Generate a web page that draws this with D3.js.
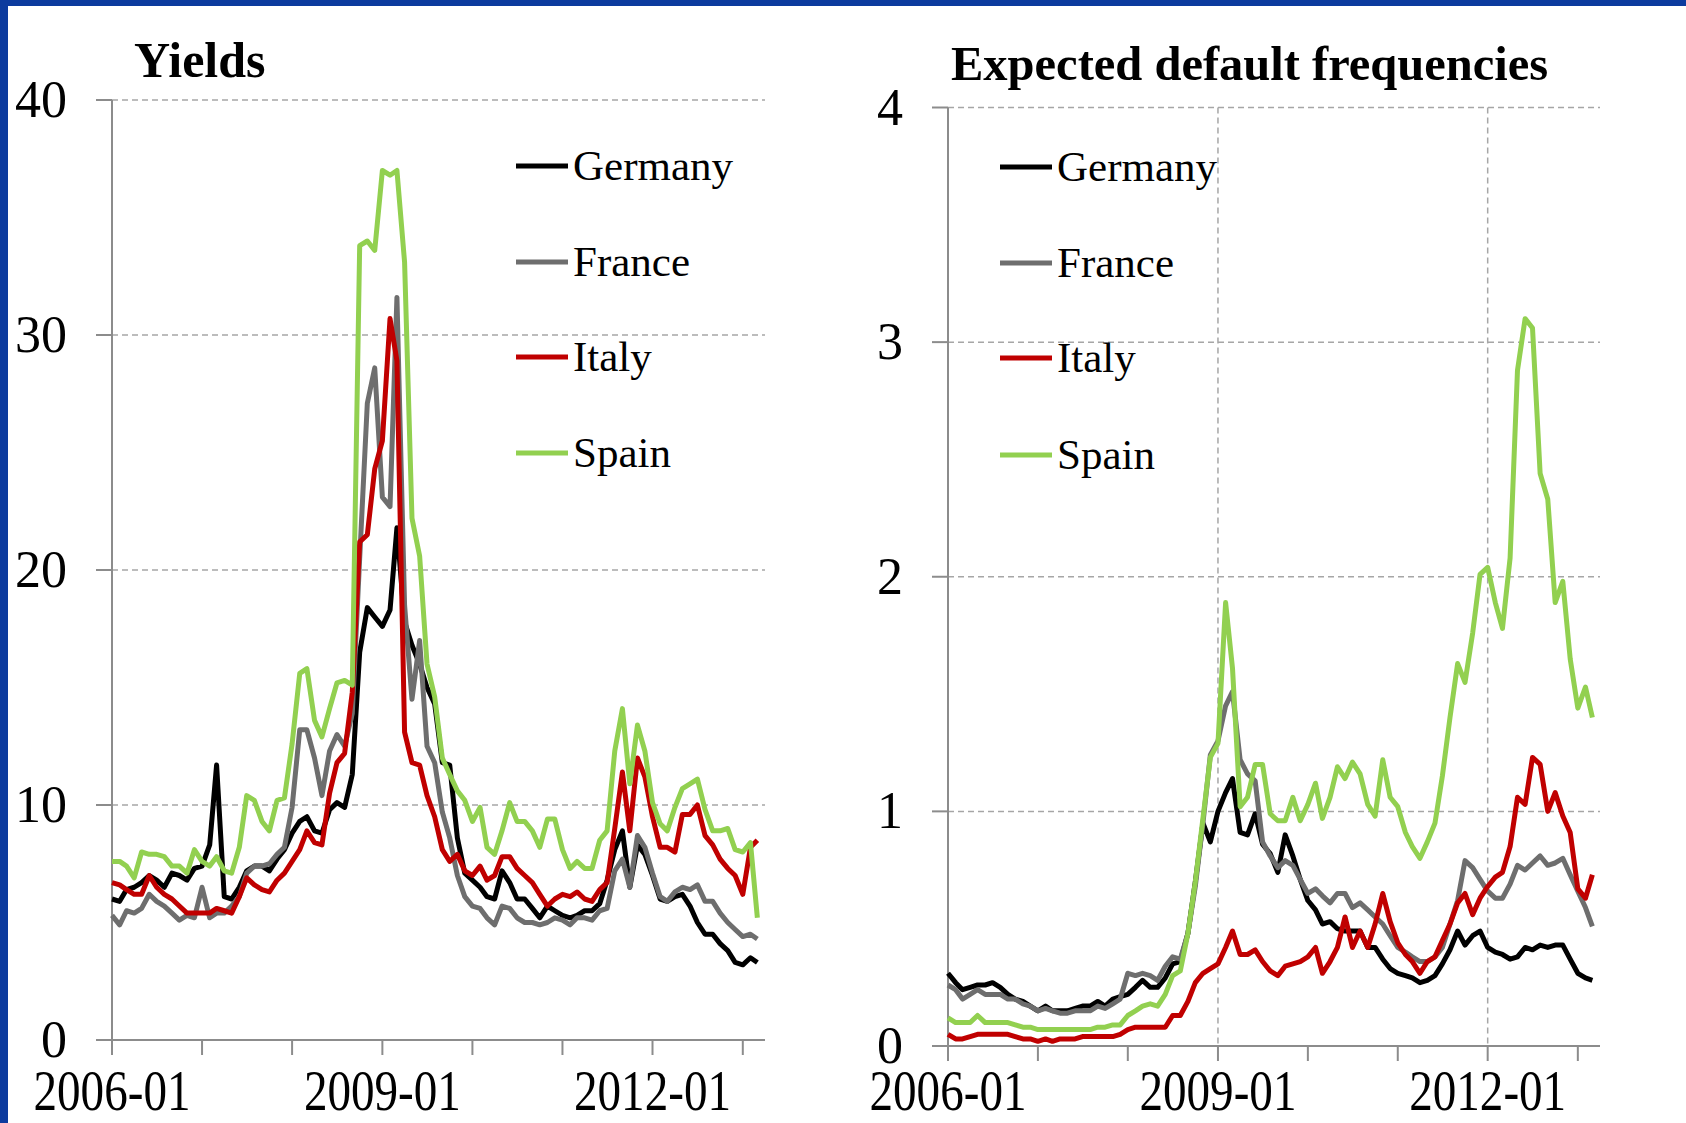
<!DOCTYPE html>
<html>
<head>
<meta charset="utf-8">
<script src="https://cdn.jsdelivr.net/npm/d3@7"></script>
<style>
  body { margin: 0; background: #fff; }
  svg { display: block; font-family: "Liberation Serif", "Times New Roman", serif; }
</style>
</head>
<body>
<div id="chart"></div>
<script>
// monthly observations, 2006-01 .. 2013-03
const months = d3.timeMonth.range(new Date(2006, 0, 1), new Date(2013, 3, 1));

const countries = ["Germany", "France", "Italy", "Spain"];
const colors = ["#000000", "#6e6e6e", "#c00000", "#92d050"];

const yieldGermany = [6.0, 5.9, 6.4, 6.5, 6.7, 7.0, 6.8, 6.5, 7.1, 7.0,
    6.8, 7.3, 7.4, 8.3, 11.7, 6.1, 6.0, 6.5, 7.2, 7.4,
    7.4, 7.2, 7.7, 8.1, 8.8, 9.3, 9.5, 8.9, 8.8, 9.8,
    10.1, 9.9, 11.3, 16.5, 18.4, 18.0, 17.6, 18.3, 21.8, 17.8,
    16.8, 16.0, 15.0, 14.3, 11.8, 11.7, 8.6, 7.1, 6.8, 6.5,
    6.1, 6.0, 7.2, 6.7, 6.0, 6.0, 5.6, 5.2, 5.7, 5.5,
    5.3, 5.2, 5.3, 5.5, 5.5, 5.8, 6.8, 8.1, 8.9, 6.5,
    8.3, 7.9, 7.0, 6.0, 5.9, 6.1, 6.2, 5.7, 5.0, 4.5,
    4.5, 4.1, 3.8, 3.3, 3.2, 3.5, 3.3];
const yieldFrance = [5.3, 4.9, 5.5, 5.4, 5.6, 6.2, 5.9, 5.7, 5.4, 5.1,
    5.3, 5.2, 6.5, 5.2, 5.4, 5.4, 5.7, 6.1, 7.1, 7.4,
    7.4, 7.5, 7.9, 8.2, 9.9, 13.2, 13.2, 12.0, 10.4, 12.3,
    13.0, 12.5, 13.9, 20.5, 27.1, 28.6, 23.1, 22.7, 31.6, 18.5,
    14.5, 17.0, 12.5, 11.8, 9.7, 8.6, 7.0, 6.1, 5.7, 5.6,
    5.2, 4.9, 5.7, 5.6, 5.2, 5.0, 5.0, 4.9, 5.0, 5.2,
    5.1, 4.9, 5.2, 5.2, 5.1, 5.5, 5.6, 7.2, 7.7, 6.5,
    8.7, 8.2, 7.1, 6.1, 5.9, 6.3, 6.5, 6.4, 6.6, 5.9,
    5.9, 5.4, 5.0, 4.7, 4.4, 4.5, 4.3];
const yieldItaly = [6.7, 6.6, 6.4, 6.2, 6.2, 7.0, 6.5, 6.2, 6.0, 5.7,
    5.4, 5.4, 5.4, 5.4, 5.6, 5.5, 5.4, 6.1, 6.9, 6.6,
    6.4, 6.3, 6.8, 7.1, 7.6, 8.1, 8.9, 8.4, 8.3, 10.5,
    11.8, 12.2, 14.8, 21.2, 21.5, 24.3, 25.5, 30.7, 28.9, 13.1,
    11.8, 11.7, 10.4, 9.5, 8.1, 7.6, 7.9, 7.2, 7.0, 7.4,
    6.8, 7.0, 7.8, 7.8, 7.3, 7.0, 6.7, 6.2, 5.7, 6.0,
    6.2, 6.1, 6.3, 6.0, 5.9, 6.4, 6.7, 9.0, 11.4, 8.9,
    12.0, 11.2, 9.5, 8.2, 8.2, 8.0, 9.6, 9.6, 10.0, 8.7,
    8.3, 7.7, 7.3, 7.0, 6.2, 8.2, 8.5];
const yieldSpain = [7.6, 7.6, 7.4, 6.9, 8.0, 7.9, 7.9, 7.8, 7.4, 7.4,
    7.1, 8.1, 7.6, 7.4, 7.8, 7.2, 7.1, 8.2, 10.4, 10.2,
    9.3, 8.9, 10.2, 10.3, 12.6, 15.6, 15.8, 13.6, 12.9, 14.1,
    15.2, 15.3, 15.1, 33.8, 34.0, 33.6, 37.0, 36.8, 37.0, 33.1,
    22.2, 20.6, 16.0, 14.6, 12.0, 11.3, 10.6, 10.2, 9.3, 9.9,
    8.2, 7.9, 8.9, 10.1, 9.3, 9.3, 8.9, 8.2, 9.4, 9.4,
    8.1, 7.3, 7.6, 7.3, 7.3, 8.5, 8.9, 12.3, 14.1, 10.9,
    13.4, 12.3, 10.1, 9.2, 8.9, 9.9, 10.7, 10.9, 11.1, 9.8,
    8.9, 8.9, 9.0, 8.1, 8.0, 8.4, 5.2];

const edfGermany = [0.31, 0.27, 0.24, 0.25, 0.26, 0.26, 0.27, 0.25, 0.22, 0.20,
    0.19, 0.17, 0.15, 0.17, 0.15, 0.15, 0.15, 0.16, 0.17, 0.17,
    0.19, 0.17, 0.20, 0.21, 0.22, 0.25, 0.28, 0.25, 0.25, 0.29,
    0.35, 0.36, 0.48, 0.70, 0.95, 0.87, 1.00, 1.08, 1.14, 0.91,
    0.90, 0.99, 0.86, 0.82, 0.74, 0.90, 0.81, 0.71, 0.62, 0.58,
    0.52, 0.53, 0.50, 0.49, 0.49, 0.49, 0.42, 0.42, 0.37, 0.33,
    0.31, 0.30, 0.29, 0.27, 0.28, 0.30, 0.35, 0.41, 0.49, 0.43,
    0.47, 0.49, 0.42, 0.40, 0.39, 0.37, 0.38, 0.42, 0.41, 0.43,
    0.42, 0.43, 0.43, 0.37, 0.31, 0.29, 0.28];
const edfFrance = [0.26, 0.24, 0.20, 0.22, 0.24, 0.22, 0.22, 0.22, 0.20, 0.20,
    0.18, 0.17, 0.15, 0.16, 0.15, 0.14, 0.14, 0.15, 0.15, 0.15,
    0.17, 0.16, 0.18, 0.20, 0.31, 0.30, 0.31, 0.30, 0.28, 0.34,
    0.38, 0.37, 0.48, 0.68, 0.95, 1.24, 1.30, 1.45, 1.51, 1.22,
    1.16, 1.13, 0.87, 0.81, 0.76, 0.79, 0.77, 0.71, 0.65, 0.67,
    0.64, 0.61, 0.65, 0.65, 0.59, 0.61, 0.58, 0.55, 0.52, 0.47,
    0.42, 0.40, 0.38, 0.36, 0.36, 0.38, 0.42, 0.52, 0.62, 0.79,
    0.76, 0.71, 0.66, 0.63, 0.63, 0.69, 0.77, 0.75, 0.78, 0.81,
    0.77, 0.78, 0.80, 0.73, 0.66, 0.59, 0.51];
const edfItaly = [0.05, 0.03, 0.03, 0.04, 0.05, 0.05, 0.05, 0.05, 0.05, 0.04,
    0.03, 0.03, 0.02, 0.03, 0.02, 0.03, 0.03, 0.03, 0.04, 0.04,
    0.04, 0.04, 0.04, 0.05, 0.07, 0.08, 0.08, 0.08, 0.08, 0.08,
    0.13, 0.13, 0.19, 0.27, 0.31, 0.33, 0.35, 0.42, 0.49, 0.39,
    0.39, 0.41, 0.36, 0.32, 0.30, 0.34, 0.35, 0.36, 0.38, 0.42,
    0.31, 0.36, 0.42, 0.55, 0.42, 0.49, 0.42, 0.52, 0.65, 0.53,
    0.44, 0.39, 0.36, 0.31, 0.36, 0.38, 0.45, 0.52, 0.61, 0.65,
    0.56, 0.63, 0.68, 0.72, 0.74, 0.85, 1.06, 1.03, 1.23, 1.20,
    1.00, 1.08, 0.98, 0.91, 0.67, 0.63, 0.73];
const edfSpain = [0.12, 0.10, 0.10, 0.10, 0.13, 0.10, 0.10, 0.10, 0.10, 0.09,
    0.08, 0.08, 0.07, 0.07, 0.07, 0.07, 0.07, 0.07, 0.07, 0.07,
    0.08, 0.08, 0.09, 0.09, 0.13, 0.15, 0.17, 0.18, 0.17, 0.22,
    0.30, 0.32, 0.48, 0.70, 0.97, 1.23, 1.29, 1.89, 1.61, 1.02,
    1.06, 1.20, 1.20, 0.99, 0.96, 0.96, 1.06, 0.96, 1.03, 1.12,
    0.97, 1.06, 1.19, 1.14, 1.21, 1.16, 1.03, 0.98, 1.22, 1.06,
    1.02, 0.91, 0.85, 0.80, 0.87, 0.95, 1.15, 1.40, 1.63, 1.55,
    1.76, 2.01, 2.04, 1.89, 1.78, 2.08, 2.88, 3.10, 3.06, 2.44,
    2.33, 1.89, 1.98, 1.65, 1.44, 1.53, 1.40];

const yieldTicks = [0, 10, 20, 30, 40];
const edfTicks = [0, 1, 2, 3, 4];
const labelYears = [2006, 2009, 2012];

const width = 1686, height = 1123;
const fmt = d3.timeFormat("%Y-%m");
const xEnd = new Date(2013, 3, 1);

const svg = d3.select("#chart")
    .append("svg")
    .attr("width", width)
    .attr("height", height);

svg.append("rect").attr("width", width).attr("height", height).attr("fill", "#fff");

// blue slide frame
svg.append("rect").attr("x", 0).attr("y", 0).attr("width", width).attr("height", 6).attr("fill", "#0c3b9e");
svg.append("rect").attr("x", 0).attr("y", 0).attr("width", 8).attr("height", height).attr("fill", "#0c3b9e");

function drawPanel(p) {
    const x = d3.scaleTime().domain([months[0], xEnd]).range([p.x0, p.x1]);
    const y = d3.scaleLinear().domain([0, p.ticks[p.ticks.length - 1]]).range([p.y0, p.y1]);
    const g = svg.append("g");

    // horizontal grid
    g.selectAll(".hgrid")
        .data(p.ticks.filter(d => d > 0))
        .enter().append("line")
        .attr("x1", p.x0).attr("x2", p.x1)
        .attr("y1", d => y(d)).attr("y2", d => y(d))
        .attr("stroke", "#a6a6a6").attr("stroke-width", 1.5)
        .attr("stroke-dasharray", "6,4");

    // vertical grid (only on the right panel)
    if (p.vgrid) {
        g.selectAll(".vgrid")
            .data(labelYears.slice(1))
            .enter().append("line")
            .attr("x1", d => x(new Date(d, 0, 1))).attr("x2", d => x(new Date(d, 0, 1)))
            .attr("y1", p.y1).attr("y2", p.y0)
            .attr("stroke", "#a6a6a6").attr("stroke-width", 1.5)
            .attr("stroke-dasharray", "6,4");
    }

    // axes
    g.append("line").attr("x1", p.x0).attr("x2", p.x0).attr("y1", p.y1).attr("y2", p.y0 + 15)
        .attr("stroke", "#8c8c8c").attr("stroke-width", 2);
    g.append("line").attr("x1", p.x0 - 16).attr("x2", p.x1).attr("y1", p.y0).attr("y2", p.y0)
        .attr("stroke", "#8c8c8c").attr("stroke-width", 2);

    g.selectAll(".ytick")
        .data(p.ticks)
        .enter().append("line")
        .attr("x1", p.x0 - 16).attr("x2", p.x0)
        .attr("y1", d => y(d)).attr("y2", d => y(d))
        .attr("stroke", "#8c8c8c").attr("stroke-width", 2);

    g.selectAll(".xtick")
        .data(d3.timeYear.range(months[0], xEnd))
        .enter().append("line")
        .attr("x1", d => x(d)).attr("x2", d => x(d))
        .attr("y1", p.y0).attr("y2", p.y0 + 15)
        .attr("stroke", "#8c8c8c").attr("stroke-width", 2);

    // tick labels
    g.selectAll(".ylab")
        .data(p.ticks)
        .enter().append("text")
        .attr("x", p.x0 - 45)
        .attr("y", d => y(d) + 17)
        .attr("text-anchor", "end")
        .attr("font-size", 52)
        .text(d => d);

    g.selectAll(".xlab")
        .data(labelYears.map(d => new Date(d, 0, 1)))
        .enter().append("text")
        .attr("x", d => x(d))
        .attr("y", p.labelY)
        .attr("text-anchor", "middle")
        .attr("font-size", 56)
        .attr("textLength", 157)
        .attr("lengthAdjust", "spacingAndGlyphs")
        .text(d => fmt(d));

    // title
    g.append("text")
        .attr("x", p.titleX).attr("y", p.titleY)
        .attr("font-size", p.titleSize).attr("font-weight", "bold")
        .text(p.title);

    // series
    const line = d3.line()
        .x((d, i) => x(months[i]))
        .y(d => y(d));

    g.selectAll(".series")
        .data(p.series)
        .enter().append("path")
        .attr("d", d => line(d))
        .attr("fill", "none")
        .attr("stroke", (d, i) => colors[i])
        .attr("stroke-width", 5)
        .attr("stroke-linejoin", "round");

    // legend
    const leg = g.selectAll(".legend")
        .data(countries)
        .enter().append("g")
        .attr("transform", (d, i) => `translate(0,${p.legendY[i]})`);
    leg.append("line")
        .attr("x1", p.legendX).attr("x2", p.legendX + 52)
        .attr("stroke", (d, i) => colors[i]).attr("stroke-width", 5);
    leg.append("text")
        .attr("x", p.legendX + 57)
        .attr("y", 14)
        .attr("font-size", 43)
        .text(d => d);
}

drawPanel({
    x0: 112, x1: 765, y0: 1040, y1: 100,
    ticks: yieldTicks, vgrid: false,
    title: "Yields", titleX: 134, titleY: 77, titleSize: 50,
    labelY: 1110,
    legendX: 516, legendY: [166, 262, 357, 453],
    series: [yieldGermany, yieldFrance, yieldItaly, yieldSpain]
});

drawPanel({
    x0: 948, x1: 1600, y0: 1046, y1: 107.5,
    ticks: edfTicks, vgrid: true,
    title: "Expected default frequencies", titleX: 951, titleY: 80, titleSize: 48.5,
    labelY: 1110,
    legendX: 1000, legendY: [167, 263, 358, 455],
    series: [edfGermany, edfFrance, edfItaly, edfSpain]
});
</script>
</body>
</html>
